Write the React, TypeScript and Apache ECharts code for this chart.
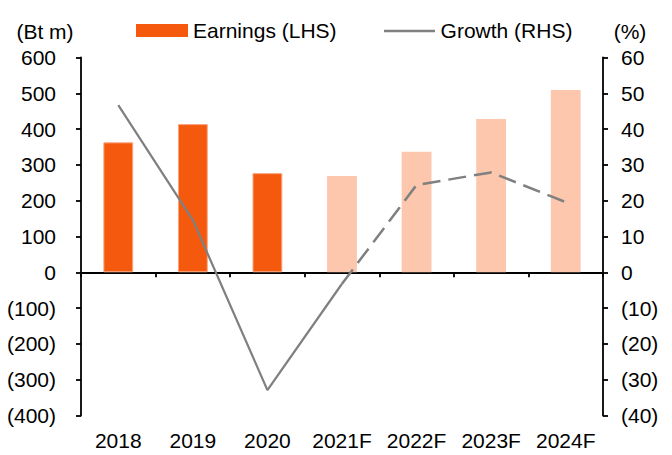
import React, { useEffect, useRef } from "react";
import * as echarts from "echarts";

const categories = ["2018", "2019", "2020", "2021F", "2022F", "2023F", "2024F"];
const earnings = [363, 414, 277, 269, 337, 428, 509];
const growth = [46.7, 14.6, -32.9, -3.2, 24.4, 27.9, 19.6];
const firstForecastIndex = 3;
const leftUnit = "(Bt m)";
const rightUnit = "(%)";

const FONT = '"Liberation Sans", Arial, sans-serif';
const DARK = "#F4590E";
const LIGHT = "#FDC7AE";
const GREY = "#808080";

const fmt = (v: number) => (v < 0 ? `(${Math.abs(v)})` : `${v}`);

export default function App() {
  const ref = useRef<HTMLDivElement>(null);
  useEffect(() => {
    if (!ref.current) return;
    const chart = echarts.init(ref.current, null, { renderer: "svg" });
    const solid = growth.map((v, i) => (i <= firstForecastIndex ? v : "-"));
    const dashed = growth.map((v, i) => (i >= firstForecastIndex ? v : "-"));
    const axisLineStyle = { color: "#000", width: 1.8 };
    chart.setOption({
      animation: false,
      textStyle: { fontFamily: FONT },
      grid: {
        left: 81,
        right: 69,
        top: 57.5,
        bottom: 39.5,
        containLabel: false,
        outerBoundsMode: "none",
      },
      legend: {
        left: 136,
        top: 20,
        padding: 0,
        itemWidth: 52,
        itemHeight: 13,
        itemGap: 47,
        textStyle: { fontSize: 21, color: "#000", fontFamily: FONT },
        data: [
          { name: "Earnings (LHS)", icon: "rect" },
          { name: "Growth (RHS)", icon: "none" },
        ],
      },
      graphic: [
        {
          type: "text",
          x: 45,
          y: 31,
          style: { text: leftUnit, font: `21px ${FONT}`, fill: "#000", textAlign: "center", textVerticalAlign: "middle" },
        },
        {
          type: "text",
          x: 630,
          y: 31,
          style: { text: rightUnit, font: `21px ${FONT}`, fill: "#000", textAlign: "center", textVerticalAlign: "middle" },
        },
        {
          type: "line",
          shape: { x1: 384, y1: 31, x2: 435, y2: 31 },
          style: { stroke: GREY, lineWidth: 2.5 },
        },
      ],
      xAxis: [
        {
          type: "category",
          data: categories,
          boundaryGap: true,
          axisLine: { onZero: true, onZeroAxisIndex: 0, lineStyle: axisLineStyle },
          axisTick: { show: true, length: 5, lineStyle: axisLineStyle },
          axisLabel: { show: false },
          splitLine: { show: false },
        },
        {
          type: "category",
          data: categories,
          position: "bottom",
          boundaryGap: true,
          axisLine: { show: false, onZero: false },
          axisTick: { show: false },
          axisLabel: { show: true, interval: 0, margin: 14, fontSize: 21, color: "#000", fontFamily: FONT, hideOverlap: false },
          splitLine: { show: false },
        },
      ],
      yAxis: [
        {
          type: "value",
          min: -400,
          max: 600,
          interval: 100,
          position: "left",
          axisLine: { show: true, lineStyle: axisLineStyle },
          axisTick: { show: true, length: 5, lineStyle: axisLineStyle },
          axisLabel: { margin: 25, fontSize: 21, color: "#000", fontFamily: FONT, formatter: fmt },
          splitLine: { show: false },
        },
        {
          type: "value",
          min: -40,
          max: 60,
          interval: 10,
          position: "right",
          axisLine: { show: true, lineStyle: axisLineStyle },
          axisTick: { show: true, length: 5, lineStyle: axisLineStyle },
          axisLabel: { margin: 18, fontSize: 21, color: "#000", fontFamily: FONT, formatter: fmt },
          splitLine: { show: false },
        },
      ],
      series: [
        {
          name: "Earnings (LHS)",
          type: "bar",
          xAxisIndex: 0,
          yAxisIndex: 0,
          barWidth: "40%",
          itemStyle: { color: DARK },
          data: earnings.map((v, i) => ({
            value: v,
            itemStyle:
              i < firstForecastIndex
                ? { color: DARK, borderColor: "#F9A57F", borderWidth: 1 }
                : { color: LIGHT },
          })),
          z: 1,
        },
        {
          name: "Growth (RHS)",
          type: "line",
          xAxisIndex: 0,
          yAxisIndex: 1,
          symbol: "none",
          connectNulls: false,
          lineStyle: { color: GREY, width: 2.25 },
          itemStyle: { color: GREY },
          data: solid,
          z: 3,
        },
        {
          name: "Growth forecast",
          type: "line",
          xAxisIndex: 0,
          yAxisIndex: 1,
          symbol: "none",
          connectNulls: false,
          lineStyle: { color: GREY, width: 2.5, type: [18, 8] },
          itemStyle: { color: GREY },
          data: dashed,
          z: 3,
        },
      ],
    });
    return () => chart.dispose();
  }, []);
  return (
    <div
      ref={ref}
      style={{ position: "fixed", left: 0, top: 0, width: 672, height: 455, background: "#fff" }}
    />
  );
}
